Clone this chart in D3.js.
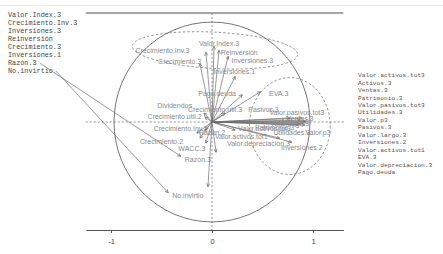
<!DOCTYPE html>
<html>
<head>
<meta charset="utf-8">
<script src="https://cdn.jsdelivr.net/npm/d3@7"></script>
<style>
  body { margin: 0; background: #fff; }
</style>
</head>
<body>
<svg id="chart" width="443" height="254"></svg>
<script>
// variable loadings (arrow tips) and where R put the labels, both in PCA units
const varNames = [
  "Valor.Index.3", "Reinversión", "Crecimiento.Inv.3", "Crecimiento.3", "Inversiones.3",
  "Inversiones.1", "Pago.deuda", "EVA.3", "Dividendos", "Crecimiento.util.3",
  "Crecimiento.util.2", "Crecimiento.Inv.2", "Crecimiento.2", "WACC.3", "Razón.3",
  "No.invirtio", "Razón.2", "Valor.activos.tot1", "Valor.depreciación.3", "Inversiones.2",
  "Utilidades.3", "Valor.p3", "Pasivos.3", "Valor.pasivos.tot3", "Patrimonio.3",
  "Valor.activos.tot3", "Activos.3", "Ventas.3", "Valor.largo.3"
]
const tipX = [0.02, 0.07, -0.06, -0.12, 0.16, 0.23, 0.30, 0.48, -0.08, 0.13,
  -0.07, -0.15, -0.12, -0.06, 0.04, -0.04, -0.07, 0.23, 0.67, 0.79,
  0.87, 0.92, 0.77, 0.89, 0.87, 0.92, 0.93, 0.90, 0.85]
const tipY = [0.75, 0.71, 0.69, 0.58, 0.65, 0.45, 0.27, 0.30, 0.09, 0.09,
  0.05, -0.11, -0.16, -0.21, -0.30, -0.64, -0.08, -0.08, -0.16, -0.20,
  -0.02, -0.03, 0.04, 0.04, 0.02, 0.01, 0.00, -0.01, -0.03]
const labelX = [0.07, 0.27, -0.49, -0.32, 0.40, 0.22, 0.05, 0.66, -0.37, 0.03,
  -0.37, -0.31, -0.50, -0.20, -0.14, -0.24, 0.00, 0.29, 0.46, 0.89,
  0.79, 1.05, 0.51, 0.84, 0.62, 0.52, 0.82, 0.87, 0.77]
const labelY = [0.78, 0.69, 0.71, 0.60, 0.61, 0.50, 0.28, 0.28, 0.16, 0.12,
  0.05, -0.06, -0.19, -0.26, -0.37, -0.73, -0.10, -0.14, -0.21, -0.25,
  -0.10, -0.10, 0.12, 0.09, -0.05, -0.06, 0.00, 0.03, -0.02]

// groups marked with dashed ellipses: centre, radii, tilt
const groupCx = [0.03, 0.77]
const groupCy = [0.71, -0.04]
const groupRx = [0.82, 0.40]
const groupRy = [0.18, 0.48]
const groupTilt = [3, 0]

const leftList = ["Valor.Index.3", "Crecimiento.Inv.3", "Inversiones.3", "Reinversión",
  "Crecimiento.3", "Inversiones.1", "Razón.3", "No.invirtio"]
const rightList = ["Valor.activos.tot3", "Activos.3", "Ventas.3", "Patrimonio.3",
  "Valor.pasivos.tot3", "Utilidades.3", "Valor.p3", "Pasivos.3", "Valor.largo.3",
  "Inversiones.2", "Valor.activos.tot1", "EVA.3", "Valor.depreciacion.3", "Pago.deuda"]
const pointers = ["Razón.3", "No.invirtio"]

const xTicks = [-1, 0, 1]

const svg = d3.select("#chart")
const x = d3.scaleLinear().domain([-1.25, 1.3]).range([85.75, 343.3])
const y = d3.scaleLinear().domain([-1.07, 1.08]).range([230, 13])
const grey = "#7a7a7a"

svg.append("line")
  .attr("x1", 0).attr("x2", 443).attr("y1", 5.5).attr("y2", 5.5)
  .attr("stroke", "#ececec")

svg.append("defs").append("marker")
  .attr("id", "head")
  .attr("viewBox", "0 0 10 10")
  .attr("refX", 9).attr("refY", 5)
  .attr("markerWidth", 4).attr("markerHeight", 4)
  .attr("markerUnits", "userSpaceOnUse")
  .attr("orient", "auto")
  .append("path")
  .attr("d", "M1,1L9,5L1,9")
  .attr("fill", "none")
  .attr("stroke", "#555")
  .attr("stroke-width", 1.5)

// top frame line
svg.append("line")
  .attr("x1", x.range()[0]).attr("x2", x.range()[1])
  .attr("y1", y(1.08)).attr("y2", y(1.08))
  .attr("stroke", "#8a8a8a").attr("stroke-width", 1.5)

// bottom axis
const axis = svg.append("g")
  .attr("transform", "translate(0," + y(-1.07) + ")")
  .call(d3.axisBottom(x).tickValues(xTicks).tickFormat(d => String(d))
    .tickSize(3).tickSizeOuter(0).tickPadding(6))
axis.select(".domain").attr("stroke", "#555")
axis.selectAll(".tick line").attr("stroke", "#555")
axis.selectAll("text")
  .attr("font-family", "Liberation Sans, Arial, sans-serif")
  .attr("font-size", 7.5)
  .attr("fill", "#444")

// dashed origin lines
svg.append("line")
  .attr("x1", x.range()[0]).attr("x2", x(1.32))
  .attr("y1", y(0)).attr("y2", y(0))
  .attr("stroke", grey).attr("stroke-width", 0.8).attr("stroke-dasharray", "2,2")
svg.append("line")
  .attr("x1", x(0)).attr("x2", x(0))
  .attr("y1", y(1.08)).attr("y2", y(-1.07))
  .attr("stroke", grey).attr("stroke-width", 0.8).attr("stroke-dasharray", "2,2")

// correlation circle
svg.append("ellipse")
  .attr("cx", x(0)).attr("cy", y(0))
  .attr("rx", x(0.97) - x(0)).attr("ry", y(0) - y(0.99))
  .attr("fill", "none").attr("stroke", "#666").attr("stroke-width", 0.9)

// group ellipses
svg.selectAll("ellipse.group")
  .data(groupCx)
  .join("ellipse")
  .attr("class", "group")
  .attr("transform", (d, i) => "translate(" + x(d) + "," + y(groupCy[i]) + ") rotate(" + groupTilt[i] + ")")
  .attr("rx", (d, i) => x(groupRx[i]) - x(0))
  .attr("ry", (d, i) => y(0) - y(groupRy[i]))
  .attr("fill", "none").attr("stroke", grey).attr("stroke-width", 0.8)
  .attr("stroke-dasharray", "2.5,2")

// variable arrows
svg.selectAll("line.arrow")
  .data(varNames)
  .join("line")
  .attr("class", "arrow")
  .attr("x1", x(0)).attr("y1", y(0))
  .attr("x2", (d, i) => x(tipX[i]))
  .attr("y2", (d, i) => y(tipY[i]))
  .attr("stroke", "#6e6e6e").attr("stroke-width", 0.7)
  .attr("marker-end", "url(#head)")

const labels = svg.selectAll("text.var")
  .data(varNames)
  .join("text")
  .attr("class", "var")
  .attr("x", (d, i) => x(labelX[i]))
  .attr("y", (d, i) => y(labelY[i]))
  .attr("dy", "0.35em")
  .attr("text-anchor", "middle")
  .attr("font-family", "Liberation Sans, Arial, sans-serif")
  .attr("font-size", 7)
  .attr("fill", "#8a8a8a")
  .text(d => d)

// side lists
const mono = "Liberation Mono, DejaVu Sans Mono, monospace"
const left = svg.selectAll("text.left")
  .data(leftList)
  .join("text")
  .attr("class", "left")
  .attr("x", 8)
  .attr("y", (d, i) => 15 + i * 8)
  .attr("dy", "0.35em")
  .attr("font-family", mono)
  .attr("font-size", 6.8)
  .attr("fill", "#444")
  .text(d => d)

svg.selectAll("text.right")
  .data(rightList)
  .join("text")
  .attr("class", "right")
  .attr("x", 358)
  .attr("y", (d, i) => 75 + i * 7.46)
  .attr("dy", "0.35em")
  .attr("font-family", mono)
  .attr("font-size", 6.2)
  .attr("fill", "#555")
  .text(d => d)

// pointer lines from the left list to the labels in the plot
pointers.forEach(name => {
  const li = leftList.indexOf(name)
  const vi = varNames.indexOf(name)
  const src = left.nodes()[li]
  const dst = labels.nodes()[vi]
  const sx = 8 + src.getComputedTextLength() + 3
  const sy = 15 + li * 8
  const dx = x(labelX[vi]) - dst.getComputedTextLength() / 2 - 4
  const dy = y(labelY[vi]) - 3
  svg.append("line")
    .attr("x1", sx).attr("y1", sy)
    .attr("x2", dx).attr("y2", dy)
    .attr("stroke", "#6e6e6e").attr("stroke-width", 0.7)
    .attr("marker-end", "url(#head)")
})
</script>
</body>
</html>
